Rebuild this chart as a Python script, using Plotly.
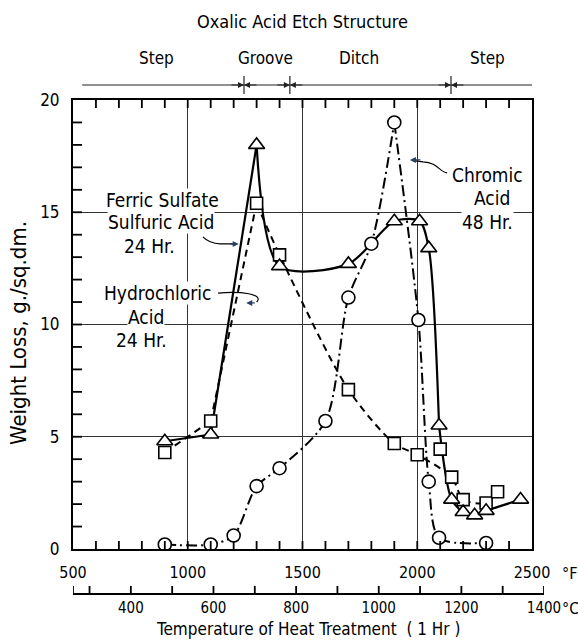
import plotly.graph_objects as go

FONT = "DejaVu Sans Condensed, Liberation Sans Narrow, DejaVu Sans, sans-serif"

# Ferric sulfate - sulfuric acid, 24 hr (triangles, solid curve)
ferric_temp = [900, 1100, 1300, 1400, 1700, 1900, 2010, 2050, 2095, 2150, 2200, 2250, 2300, 2450]
ferric_loss = [4.8, 5.1, 18.0, 12.6, 12.7, 14.6, 14.6, 13.4, 5.5, 2.2, 1.65, 1.5, 1.7, 2.2]
ferric_breaks = [1, 2, 8]

# Hydrochloric acid, 24 hr (squares, dashed curve)
hcl_temp = [900, 1100, 1300, 1400, 1700, 1900, 2000, 2100, 2150, 2200, 2300, 2350]
hcl_loss = [4.3, 5.7, 15.4, 13.1, 7.1, 4.7, 4.2, 4.45, 3.2, 2.2, 2.05, 2.55]
hcl_on_curve = [True, True, True, True, True, True, True, False, True, True, True, True]
hcl_breaks = [1, 2]

# Chromic acid, 48 hr (circles, dash-dot curve)
chromic_temp = [900, 1100, 1200, 1300, 1400, 1600, 1700, 1800, 1900, 2005, 2050, 2095, 2300]
chromic_loss = [0.2, 0.2, 0.6, 2.8, 3.6, 5.7, 11.2, 13.6, 19.0, 10.2, 3.0, 0.5, 0.27]
chromic_breaks = [8]

# Axis ticks
f_ticks = [500, 1000, 1500, 2000, 2500]
f_minor = list(range(600, 2500, 100))
y_ticks = [0, 5, 10, 15, 20]
y_minor = list(range(1, 20))
c_ticks = [260, 300, 400, 500, 600, 700, 800, 900, 1000, 1100, 1200, 1300, 1400]
c_labels = ["", "", "400", "", "600", "", "800", "", "1000", "", "1200", "", "1400"]

# Oxalic acid etch structure bands (boundaries in deg F)
etch_bounds = [1245, 1445, 2147]
etch_names = ["Step", "Groove", "Ditch", "Step"]
etch_centers = [862, 1337, 1746, 2308]

# Curve captions: (text line, x in deg F, y in g/sq.dm)
captions = [
    ("Ferric Sulfate", 888, 15.55), ("Sulfuric Acid", 883, 14.57), ("24 Hr.", 835, 13.5),
    ("Hydrochloric", 870, 11.4), ("Acid", 818, 10.33), ("24 Hr.", 800, 9.3),
    ("Chromic", 2304, 16.66), ("Acid", 2326, 15.63), ("48 Hr.", 2304, 14.55),
]

# plot geometry (paper fractions)
PLOT_W, PLOT_H = 471, 500
Y_BOTTOM = 0.102
C_AXIS_POS = 0.012


def pieces(xs, ys, breaks):
    cuts = [0] + sorted(breaks) + [len(xs) - 1]
    for a, b in zip(cuts[:-1], cuts[1:]):
        if b > a:
            yield xs[a:b + 1], ys[a:b + 1]


fig = go.Figure()

curve_styles = [
    (ferric_temp, ferric_loss, ferric_breaks, "solid", 2.2),
    ([t for t, k in zip(hcl_temp, hcl_on_curve) if k],
     [v for v, k in zip(hcl_loss, hcl_on_curve) if k], hcl_breaks, "7px,5px", 2.0),
    (chromic_temp, chromic_loss, chromic_breaks, "11px,4px,2px,4px", 2.0),
]
for xs, ys, brk, dash, w in curve_styles:
    for px, py in pieces(xs, ys, brk):
        fig.add_trace(go.Scatter(
            x=px, y=py, mode="lines",
            line=dict(color="black", width=w, dash=dash, shape="spline", smoothing=0.8),
            hoverinfo="skip", showlegend=False))

marker_sets = [
    (chromic_temp, chromic_loss, "circle", 13),
    (hcl_temp, hcl_loss, "square", 12),
    (ferric_temp, ferric_loss, "triangle-up", 14),
]
for xs, ys, sym, size in marker_sets:
    fig.add_trace(go.Scatter(
        x=xs, y=ys, mode="markers",
        marker=dict(symbol=sym, size=size, color="white",
                    line=dict(color="black", width=1.6)),
        showlegend=False))

# carrier for the Celsius scale (thin strip under the main plot)
fig.add_trace(go.Scatter(x=[c_ticks[0], c_ticks[-1]], y=[-1, -1], xaxis="x2", yaxis="y3",
                         mode="markers", marker=dict(opacity=0), hoverinfo="skip",
                         showlegend=False))

fig.update_layout(
    width=578, height=641,
    margin=dict(l=73, r=34, t=100, b=41),
    paper_bgcolor="white", plot_bgcolor="rgba(0,0,0,0)",
    showlegend=False,
    font=dict(family=FONT, size=16, color="black"),
    xaxis=dict(
        domain=[0, 459 / PLOT_W], range=[500, 2500], anchor="y",
        tickmode="array", tickvals=f_ticks, ticks="", ticklabelstandoff=8,
        tickfont=dict(size=16),
        showgrid=True, gridcolor="#333", gridwidth=1, zeroline=False,
        showline=True, linecolor="black", linewidth=2, mirror=True,
    ),
    yaxis=dict(
        domain=[Y_BOTTOM, 1], range=[0, 20], anchor="x",
        tickmode="array", tickvals=y_ticks, ticks="", ticklabelstandoff=8,
        tickfont=dict(size=17),
        showgrid=True, gridcolor="#333", gridwidth=1, zeroline=False,
        showline=True, linecolor="black", linewidth=2, mirror=True,
    ),
    xaxis2=dict(
        domain=[0, 1], range=[260, 1400], anchor="free", position=C_AXIS_POS,
        tickmode="array", tickvals=c_ticks, ticktext=c_labels, ticks="",
        side="bottom", tickfont=dict(size=15),
        showgrid=False, zeroline=False,
        showline=True, linecolor="black", linewidth=1.5,
    ),
    yaxis3=dict(domain=[0.0, 0.01], range=[0, 1], visible=False, anchor="x2"),
)

ann = []
shapes = []
mid = dict(xanchor="center", yanchor="middle")
tick_line = dict(color="black", width=1.8)

# Inward tick marks: deg F along bottom and top, weight loss along the left
for t in f_minor:
    shapes.append(dict(type="line", xref="x", yref="paper", x0=t, x1=t,
                       y0=Y_BOTTOM, y1=Y_BOTTOM + 8 / PLOT_H, line=tick_line))
    shapes.append(dict(type="line", xref="x", yref="paper", x0=t, x1=t,
                       y0=1, y1=1 - 8 / PLOT_H, line=tick_line))
for v in y_minor:
    shapes.append(dict(type="line", xref="paper", yref="y", x0=0, x1=9 / PLOT_W,
                       y0=v, y1=v, line=tick_line))
# deg C scale ticks point up from its line
for c in c_ticks:
    shapes.append(dict(type="line", xref="x2", yref="paper", x0=c, x1=c,
                       y0=C_AXIS_POS, y1=C_AXIS_POS + 8 / PLOT_H, line=tick_line))

# Etch structure header
ann.append(dict(text="Oxalic Acid Etch Structure", xref="paper", yref="paper",
                x=0.488, y=1.158, showarrow=False, font=dict(size=18), **mid))
for name, cx in zip(etch_names, etch_centers):
    ann.append(dict(text=name, xref="x", yref="paper", x=cx, y=1.084,
                    showarrow=False, font=dict(size=17), **mid))
shapes.append(dict(type="line", xref="x", yref="paper", x0=540, x1=2500,
                   y0=1.03, y1=1.03, line=dict(color="#222", width=1.2)))
for b in etch_bounds:
    shapes.append(dict(type="line", xref="x", yref="paper", x0=b, x1=b,
                       y0=1.012, y1=1.048, line=dict(color="#222", width=1.2)))
    for side in (-1, 1):
        ann.append(dict(text="", xref="x", yref="paper", x=b, y=1.03,
                        ax=side * 14, ay=0, showarrow=True, arrowhead=2,
                        arrowsize=1, arrowwidth=1.2, arrowcolor="#222"))

# Curve captions, one box per line so leaders stay visible
for text, cx, cy in captions:
    ann.append(dict(text=text, xref="x", yref="y", x=cx, y=cy, showarrow=False,
                    bgcolor="white", borderpad=0, font=dict(size=19), **mid))

# Curved leaders
shapes.append(dict(type="path", xref="x", yref="y",
                   path="M 1066,13.9 Q 1095,13.6 1141,13.59 L 1205,13.59",
                   line=dict(color="black", width=1.2)))
ann.append(dict(text="", xref="x", yref="y", x=1222, y=13.59, ax=-10, ay=0,
                showarrow=True, arrowhead=2, arrowsize=1, arrowwidth=1.2))
shapes.append(dict(type="path", xref="x", yref="y",
                   path="M 1132,11.4 C 1230,11.5 1335,11.35 1300,11.0",
                   line=dict(color="black", width=1.2)))
ann.append(dict(text="", xref="x", yref="y", x=1255, y=10.96, ax=10, ay=0,
                showarrow=True, arrowhead=2, arrowsize=1, arrowwidth=1.2))
shapes.append(dict(type="path", xref="x", yref="y",
                   path="M 2130,16.75 C 2095,16.8 2090,17.22 2025,17.24 L 1985,17.3",
                   line=dict(color="black", width=1.2)))
ann.append(dict(text="", xref="x", yref="y", x=1968, y=17.33, ax=12, ay=0,
                showarrow=True, arrowhead=2, arrowsize=1, arrowwidth=1.2))

# Axis titles and units
ann.append(dict(text="Weight Loss, g./sq.dm.", xref="paper", yref="paper",
                x=-0.117, y=0.534, textangle=-90, showarrow=False,
                font=dict(size=22), **mid))
ann.append(dict(text="°F", xref="paper", yref="paper", x=1.055, y=0.054,
                showarrow=False, font=dict(size=16), **mid))
ann.append(dict(text="°C", xref="paper", yref="paper", x=1.057, y=-0.016,
                showarrow=False, font=dict(size=16), **mid))
ann.append(dict(text="Temperature of Heat Treatment  ( 1 Hr )", xref="paper", yref="paper",
                x=0.499, y=-0.058, showarrow=False, font=dict(size=17), **mid))

fig.update_layout(annotations=ann, shapes=shapes)

fig.write_html("out.html")
